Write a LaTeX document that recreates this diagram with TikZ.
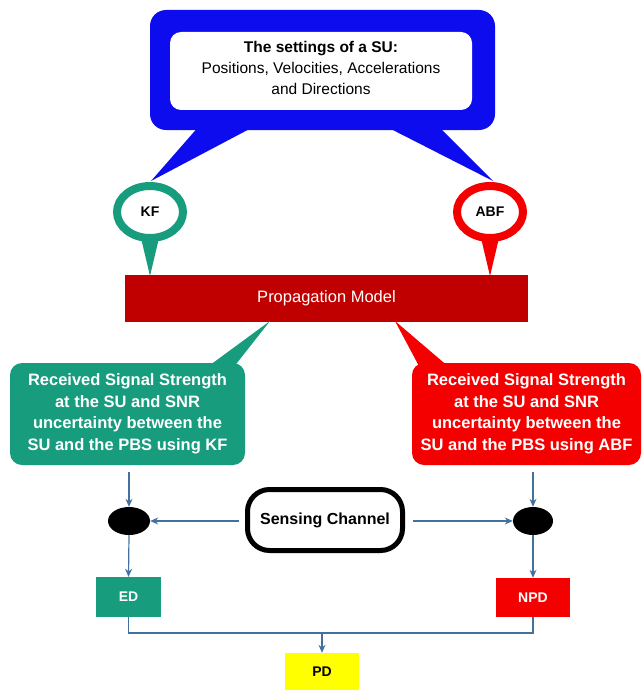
\documentclass[tikz,border=0pt]{standalone}
\usepackage{fontspec}
\setmainfont{Liberation Sans}
\usetikzlibrary{shapes.geometric,arrows.meta}
\definecolor{kfgreen}{RGB}{24,156,126}
\definecolor{abfred}{RGB}{245,0,0}
\definecolor{propred}{RGB}{192,0,0}
\definecolor{calloutblue}{RGB}{12,12,238}
\definecolor{arrowblue}{RGB}{65,113,156}
\definecolor{pdyellow}{RGB}{255,255,0}
\tikzset{
  conn/.style={draw=arrowblue, line width=1.2pt},
  arr/.style={conn, -{Stealth[length=8pt,width=7pt]}},
  ring/.style={ellipse, fill=white, line width=8pt, inner sep=0pt,
    minimum width=66pt, minimum height=52pt, font=\bfseries\fontsize{14}{16}\selectfont},
  rssbox/.style={rounded corners=12pt, inner sep=0pt, text=white, align=center,
    minimum height=102pt, font=\bfseries\fontsize{16.5}{21.5}\selectfont},
  detbox/.style={rectangle, inner sep=0pt, font=\bfseries\fontsize{14}{16}\selectfont},
  dot/.style={ellipse, fill=black, inner sep=0pt},
}
\begin{document}
\begin{tikzpicture}[x=1pt,y=-1pt]
\useasboundingbox (0,0) rectangle (643,690);
% blue callout
\fill[calloutblue] (200,125) -- (257,125) -- (151,181) -- cycle;
\fill[calloutblue] (383,125) -- (437,125) -- (493,181) -- cycle;
\fill[calloutblue, rounded corners=16pt] (150,10) rectangle (495,130);
\fill[white, rounded corners=11pt] (170,32) rectangle (472,110);
\node[align=center, font=\fontsize{15.5}{21}\selectfont] (settings) at (321,68)
  {\textbf{The settings of a SU:}\\Positions, Velocities, Accelerations\\and Directions};
% KF / ABF balloons
\fill[kfgreen] (141,238) -- (159,238) -- (150,276) -- cycle;
\fill[abfred] (481,238) -- (499,238) -- (490,276) -- cycle;
\node[ring, draw=kfgreen] (kf) at (150,212) {KF};
\node[ring, draw=abfred] (abf) at (490,212) {ABF};
% propagation model
\node[rectangle, fill=propred, minimum width=403pt, minimum height=47pt, inner sep=0pt,
  text=white, font=\fontsize{16.5}{18}\selectfont] (prop) at (326.5,298.5) {Propagation Model};
% result callouts
\fill[kfgreen] (206,368) -- (233,368) -- (270,321) -- cycle;
\fill[abfred] (420,368) -- (450,368) -- (395,321) -- cycle;
\node[rssbox, fill=kfgreen, minimum width=235pt] (rsskf) at (127.5,414)
  {Received Signal Strength\\at the SU and SNR\\uncertainty between the\\SU and the PBS using KF};
\node[rssbox, fill=abfred, minimum width=229pt] (rssabf) at (526.5,414)
  {Received Signal Strength\\at the SU and SNR\\uncertainty between the\\SU and the PBS using ABF};
% sensing channel
\node[draw=black, line width=5pt, rounded corners=22pt, fill=white, inner sep=0pt,
  minimum width=155pt, minimum height=61pt, font=\bfseries\fontsize{16}{18}\selectfont]
  (sense) at (325,520) {Sensing Channel};
\node[dot, minimum width=42pt, minimum height=28pt] (el) at (129,521) {};
\node[dot, minimum width=40pt, minimum height=28pt] (er) at (533,521) {};
% detectors
\node[detbox, fill=kfgreen, text=white, minimum width=65pt, minimum height=40pt] (ed) at (128.5,597) {ED};
\node[detbox, fill=abfred, text=white, minimum width=74pt, minimum height=39pt] (npd) at (533,597.5) {NPD};
\node[detbox, fill=pdyellow, text=black, minimum width=74pt, minimum height=38pt] (pd) at (322,672) {PD};
% connectors
\draw[arr, shorten <=7pt] (el.north |- rsskf.south) -- (el.north);
\draw[arr, shorten <=7pt] (er.north |- rssabf.south) -- (er.north);
\draw[arr, shorten <=6pt] (sense.west |- el.east) -- (el.east);
\draw[arr, shorten <=8pt] (sense.east |- er.west) -- (er.west);
\draw[arr] (el.south) -- (ed.north);
\draw[arr] (er.south) -- (npd.north);
\coordinate (join) at (pd.north |- 0,633);
\draw[conn] (ed.south) |- (join) -| (npd.south);
\draw[arr] (join) -- (pd.north);
\end{tikzpicture}
\end{document}
